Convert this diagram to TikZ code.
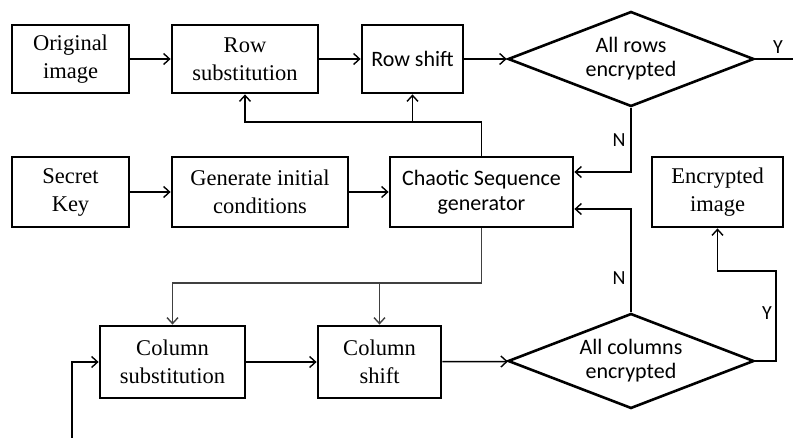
\documentclass[tikz,border=0pt]{standalone}
\usepackage{fontspec}
\setmainfont{Liberation Serif}
\newfontfamily\calib{Carlito}
\usetikzlibrary{shapes.geometric,arrows.meta}
\begin{document}
\begin{tikzpicture}[x=1pt,y=-1pt,
  box/.style={draw,line width=2.8pt,align=center,inner sep=0pt,
    font=\fontsize{22.5}{28}\selectfont},
  sbox/.style={box,font=\calib\fontsize{22}{25}\selectfont},
  dec/.style={draw,line width=2.6pt,shape=diamond,aspect=2.56,inner sep=0pt,
    minimum width=246pt,minimum height=95pt,align=center,
    font=\calib\fontsize{22}{24}\selectfont},
  conn/.style={line width=1.5pt,-{Straight Barb[length=6pt,width=11pt,line width=1.4pt]}},
  plain/.style={line width=1.5pt},
  lab/.style={font=\calib\fontsize{20}{22}\selectfont,inner sep=0pt}]
\useasboundingbox (0,0) rectangle (793,438);
% row stage
\node[box,minimum width=117pt,minimum height=68pt] (orig) at (70.5,59) {Original\\image};
\node[box,minimum width=146pt,minimum height=68pt] (rowsub) at (245,59) {Row\\substitution};
\node[sbox,minimum width=101pt,minimum height=68pt] (rowshift) at (412.5,59) {Row shift};
\node[dec] (drow) at (631,59) {All rows\\encrypted};
\coordinate (yend) at (793,59);
% middle
\node[box,minimum width=117pt,minimum height=70pt] (secret) at (70.5,192) {Secret\\Key};
\node[box,minimum width=176pt,minimum height=70pt] (gen) at (260,192) {Generate initial\\conditions};
\node[sbox,minimum width=183pt,minimum height=70pt] (chaos) at (481.5,192) {Chaotic Sequence\\generator};
\node[box,minimum width=131pt,minimum height=70pt] (enc) at (717.5,192) {Encrypted\\image};
% column stage
\node[box,minimum width=145pt,minimum height=72pt] (colsub) at (172.5,362) {Column\\substitution};
\node[box,minimum width=123pt,minimum height=72pt] (colshift) at (379.5,362) {Column\\shift};
\node[dec] (dcol) at (631,361) {All columns\\encrypted};
\coordinate (entry) at (72,438);
% connectors row
\draw[conn] (orig) -- (rowsub);
\draw[conn] (rowsub) -- (rowshift);
\draw[conn] (rowshift) -- (drow);
\draw[plain] (drow.east) -- (yend);
\node[lab] (ylab1) at (778,47) {Y};
\draw[conn] (chaos.north) -- (chaos.north |- 0,122) -| (rowsub.south);
\draw[conn] (rowshift.south |- 0,122) -- (rowshift.south);
\draw[conn] (drow.south) |- (chaos.east |- 0,172);
\node[lab] (nlab1) at (619,140) {N};
% connectors middle
\draw[conn] (secret) -- (gen);
\draw[conn] (gen) -- (chaos);
\draw[conn] (dcol.north) |- (chaos.east |- 0,209);
\node[lab] (nlab2) at (619,278) {N};
% connectors column
\draw[conn,draw=black!75] (chaos.south) -- (chaos.south |- 0,283) -| (colsub.north);
\draw[conn,draw=black!75] (colshift.north |- 0,283) -- (colshift.north);
\draw[conn] (colsub) -- (colshift);
\draw[conn] (colshift) -- (dcol);
\draw[conn] (dcol.east) -- (776,361) -- (776,271) -| (enc.south);
\node[lab] (ylab2) at (767,313) {Y};
\draw[conn] (entry) |- (colsub.west);
\end{tikzpicture}
\end{document}
